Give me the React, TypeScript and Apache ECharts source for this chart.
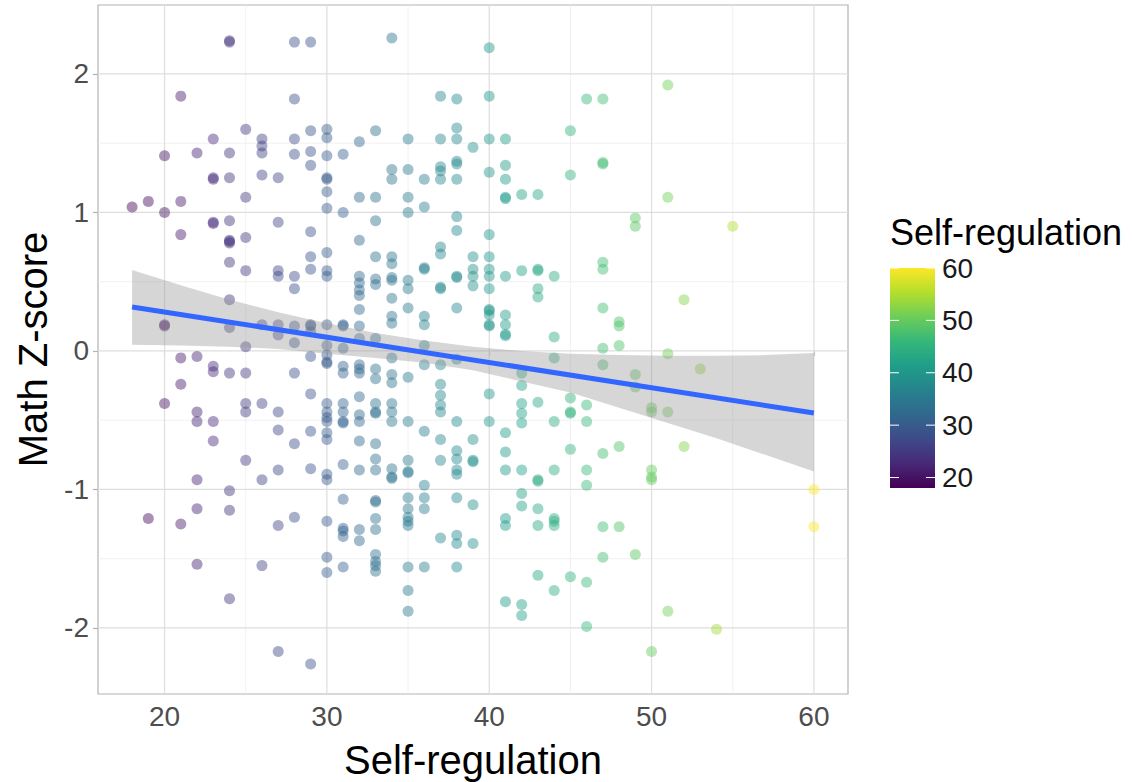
import React, { useEffect, useRef } from 'react';
import * as echarts from 'echarts';

// ---------- data ----------
const srLevels = [18, 19, 20, 21, 22, 23, 24, 25, 26, 27, 28, 29, 30, 31, 32, 33, 34, 35, 36, 37, 38, 39, 40, 41, 42, 43, 44, 45, 46, 47, 48, 49, 50, 51, 52, 53, 54, 55, 60];

const zScoresAtLevel: number[][] = [
  [1.04],
  [1.08, -1.21],
  [1.41, 1.0, 0.19, 0.18, -0.38],
  [1.84, 1.08, 0.84, -0.05, -0.24, -1.25],
  [1.43, -0.04, -0.44, -0.51, -0.93, -1.14, -1.54],
  [1.53, 1.25, 1.24, 0.93, 0.92, -0.11, -0.15, -0.51, -0.65],
  [2.23, 2.24, 1.43, 1.25, 0.94, 0.8, 0.79, 0.78, 0.64, 0.37, 0.17, -0.16, -1.01, -1.15, -1.79],
  [1.6, 1.11, 0.82, 0.58, 0.03, -0.16, -0.38, -0.44, -0.79],
  [1.53, 1.48, 1.43, 1.27, 0.19, -0.38, -0.93, -1.55],
  [1.25, 0.93, 0.58, 0.54, 0.19, 0.115, -0.44, -0.57, -0.86, -1.26, -2.17],
  [2.23, 1.82, 1.53, 1.42, 0.54, 0.45, 0.18, 0.06, -0.16, -0.67, -1.2],
  [2.23, 1.59, 1.44, 1.34, 0.86, 0.68, 0.59, 0.19, 0.18, 0.14, -0.04, -0.31, -0.58, -0.85, -2.26],
  [1.6, 1.54, 1.41, 1.25, 1.24, 1.15, 1.03, 0.71, 0.58, 0.54, 0.19, 0.04, -0.03, -0.08, -0.09, -0.38, -0.44, -0.48, -0.51, -0.59, -0.64, -0.89, -0.93, -1.23, -1.49, -1.6],
  [1.42, 1.0, 0.19, 0.18, 0.02, -0.11, -0.16, -0.38, -0.44, -0.51, -0.52, -0.82, -1.07, -1.28, -1.3, -1.34, -1.56],
  [1.51, 1.11, 0.8, 0.54, 0.49, 0.44, 0.4, 0.3, 0.18, 0.09, -0.1, -0.13, -0.16, -0.33, -0.46, -0.51, -0.65, -0.86, -1.29, -1.37],
  [1.59, 1.11, 0.94, 0.68, 0.52, 0.48, 0.09, -0.13, -0.2, -0.38, -0.44, -0.45, -0.67, -0.78, -0.86, -1.08, -1.09, -1.21, -1.29, -1.47, -1.52, -1.55, -1.59],
  [2.26, 1.31, 1.24, 0.68, 0.63, 0.53, 0.51, 0.38, 0.25, 0.2, -0.05, -0.17, -0.23, -0.38, -0.44, -0.51, -0.85, -0.91, -0.92],
  [1.53, 1.31, 1.11, 1.0, 0.51, 0.45, 0.31, -0.19, -0.51, -0.79, -0.87, -0.88, -1.06, -1.14, -1.2, -1.23, -1.26, -1.56, -1.73, -1.88],
  [1.24, 1.04, 0.59, 0.6, 0.25, 0.19, 0.04, -0.1, -0.58, -0.97, -1.06, -1.14, -1.56],
  [1.84, 1.53, 1.33, 1.3, 1.24, 0.75, 0.7, 0.46, 0.45, -0.1, -0.24, -0.32, -0.39, -0.44, -0.64, -0.79, -1.35],
  [1.82, 1.61, 1.53, 1.37, 1.35, 1.24, 0.97, 0.87, 0.54, 0.53, 0.31, -0.06, -0.51, -0.72, -0.78, -0.86, -0.89, -1.06, -1.33, -1.39, -1.56],
  [1.47, 0.68, 0.59, 0.54, 0.47, -0.64, -0.79, -0.8, -1.11, -1.39],
  [2.19, 1.84, 1.53, 1.29, 0.84, 0.68, 0.59, 0.54, 0.45, 0.3, 0.29, 0.26, 0.19, 0.18, -0.31, -0.51],
  [1.53, 1.34, 1.24, 1.11, 1.1, 0.54, 0.26, 0.19, 0.12, 0.11, -0.59, -0.73, -0.86, -1.21, -1.26, -1.81],
  [1.13, 0.58, -0.16, -0.25, -0.38, -0.45, -0.52, -0.86, -1.03, -1.12, -1.83, -1.91],
  [1.13, 0.59, 0.58, 0.45, 0.39, -0.37, -0.93, -0.94, -1.14, -1.26, -1.62],
  [0.54, 0.1, -0.05, -0.51, -0.86, -1.21, -1.23, -1.26, -1.73],
  [1.59, 1.27, -0.34, -0.44, -0.45, -0.71, -1.63],
  [1.82, -0.39, -0.51, -0.86, -0.97, -1.67, -1.99],
  [1.82, 1.36, 1.35, 0.64, 0.59, 0.31, 0.02, -0.1, -0.74, -1.27, -1.49],
  [0.21, 0.18, 0.04, -0.69, -1.27],
  [0.96, 0.9, -0.17, -0.26, -1.47],
  [-0.41, -0.44, -0.86, -0.91, -0.93, -2.17],
  [1.92, 1.11, -0.02, -0.44, -1.88],
  [0.37, -0.69],
  [-0.13],
  [-2.01],
  [0.9],
  [-1.0, -1.27],
];

// linear fit
const fitX = [18, 60];
const fitY = [0.318, -0.448];

// confidence band
const bandX = [18, 21, 24, 27, 30, 33, 36, 39, 42, 45, 48, 51, 54, 57, 60];
const bandUpper = [0.585, 0.475, 0.37, 0.28, 0.2, 0.13, 0.075, 0.03, 0.0, -0.02, -0.03, -0.035, -0.035, -0.03, -0.015];
const bandLower = [0.045, 0.04, 0.03, 0.015, -0.02, -0.05, -0.085, -0.14, -0.22, -0.3, -0.41, -0.52, -0.63, -0.75, -0.87];

// axes / ticks
const xTicks = [20, 30, 40, 50, 60];
const xMinorTicks = [25, 35, 45, 55];
const yTicks = [-2, -1, 0, 1, 2];
const yMinorTicks = [-1.5, -0.5, 0.5, 1.5];
const legendTicks = [20, 30, 40, 50, 60];

const X_MIN = 15.9;
const X_MAX = 62.1;
const Y_MIN = -2.477;
const Y_MAX = 2.498;
const COLOR_MIN = 18;
const COLOR_MAX = 60;

const VIRIDIS = ['#440154', '#482878', '#3E4A89', '#31688E', '#26828E', '#1F9E89', '#35B779', '#6DCD59', '#B4DE2C', '#FDE725'];

const FONT = '"Liberation Sans", Arial, Helvetica, sans-serif';

function gridLineSeries(vals: number[], vertical: boolean, major: boolean) {
  return {
    type: 'custom',
    silent: true,
    z: 1,
    data: vals.map((v) => (vertical ? [v, 0] : [20, v])),
    renderItem: (_params: any, api: any) => {
      const a = api.value(0);
      const b = api.value(1);
      const p1 = vertical ? api.coord([a, Y_MIN]) : api.coord([X_MIN, b]);
      const p2 = vertical ? api.coord([a, Y_MAX]) : api.coord([X_MAX, b]);
      return {
        type: 'line',
        shape: { x1: p1[0], y1: p1[1], x2: p2[0], y2: p2[1] },
        style: { stroke: major ? '#dedede' : '#ebebeb', lineWidth: major ? 1.2 : 0.7 },
      };
    },
  };
}

export default function App() {
  const ref = useRef<HTMLDivElement>(null);

  useEffect(() => {
    if (!ref.current) return;
    const chart = echarts.init(ref.current, undefined, { renderer: 'svg' });

    const points: number[][] = [];
    srLevels.forEach((x, i) => zScoresAtLevel[i].forEach((y) => points.push([x, y])));

    // legend geometry
    const lgX = 890;
    const lgTop = 268;
    const lgH = 220;
    const lgW = 45;
    const legendY = (v: number) => lgTop + lgH - ((v - COLOR_MIN) / (COLOR_MAX - COLOR_MIN)) * lgH;

    const legendGraphics: any[] = [
      {
        type: 'text',
        left: lgX,
        top: 214,
        style: { text: 'Self-regulation', fontSize: 36, fill: '#000', fontFamily: FONT },
      },
      {
        type: 'rect',
        shape: { x: lgX, y: lgTop, width: lgW, height: lgH },
        style: {
          fill: new echarts.graphic.LinearGradient(
            0, 1, 0, 0,
            VIRIDIS.map((c, i) => ({ offset: i / (VIRIDIS.length - 1), color: c }))
          ),
        },
      },
    ];
    legendTicks.forEach((v) => {
      const y = legendY(v);
      legendGraphics.push(
        { type: 'line', shape: { x1: lgX, y1: y, x2: lgX + 9, y2: y }, style: { stroke: '#fff', lineWidth: 1 } },
        { type: 'line', shape: { x1: lgX + lgW - 9, y1: y, x2: lgX + lgW, y2: y }, style: { stroke: '#fff', lineWidth: 1 } },
        {
          type: 'text',
          x: lgX + lgW + 7,
          y,
          style: { text: String(v), fontSize: 28, fill: '#1a1a1a', fontFamily: FONT, verticalAlign: 'middle', align: 'left' },
        }
      );
    });

    const option: any = {
      animation: false,
      backgroundColor: '#fff',
      textStyle: { fontFamily: FONT },
      grid: {
        left: 98,
        top: 5,
        width: 750,
        height: 689,
        show: true,
        borderColor: '#b3b3b3',
        borderWidth: 1.2,
        backgroundColor: 'transparent',
        containLabel: false,
        outerBoundsMode: 'none',
      },
      xAxis: {
        type: 'value',
        min: X_MIN,
        max: X_MAX,
        splitLine: { show: false },
        axisLine: { show: false },
        axisTick: { show: true, customValues: xTicks, length: 5, lineStyle: { color: '#b3b3b3', width: 1.2 } },
        axisLabel: { customValues: xTicks, color: '#4d4d4d', fontSize: 28, margin: 8, fontFamily: FONT },
        name: 'Self-regulation',
        nameLocation: 'middle',
        nameGap: 46,
        nameTextStyle: { fontSize: 40, color: '#000', fontFamily: FONT },
      },
      yAxis: {
        type: 'value',
        min: Y_MIN,
        max: Y_MAX,
        splitLine: { show: false },
        axisLine: { show: false },
        axisTick: { show: true, customValues: yTicks, length: 5, lineStyle: { color: '#b3b3b3', width: 1.2 } },
        axisLabel: { customValues: yTicks, color: '#4d4d4d', fontSize: 28, margin: 9, fontFamily: FONT },
        name: 'Math Z-score',
        nameLocation: 'middle',
        nameGap: 42,
        nameTextStyle: { fontSize: 40, color: '#000', fontFamily: FONT },
      },
      visualMap: {
        type: 'continuous',
        show: false,
        dimension: 0,
        min: COLOR_MIN,
        max: COLOR_MAX,
        seriesIndex: 4,
        inRange: { color: VIRIDIS },
      },
      graphic: legendGraphics,
      series: [
        gridLineSeries(xMinorTicks, true, false),
        gridLineSeries(yMinorTicks, false, false),
        gridLineSeries(xTicks, true, true),
        gridLineSeries(yTicks, false, true),
        {
          type: 'scatter',
          z: 2,
          data: points,
          symbolSize: 11,
          itemStyle: { opacity: 0.45 },
          silent: true,
        },
        {
          type: 'custom',
          z: 3,
          silent: true,
          data: [[bandX[0], bandUpper[0]]],
          renderItem: (_params: any, api: any) => {
            const pts: number[][] = [];
            bandX.forEach((x, i) => pts.push(api.coord([x, bandUpper[i]])));
            for (let i = bandX.length - 1; i >= 0; i--) pts.push(api.coord([bandX[i], bandLower[i]]));
            return { type: 'polygon', shape: { points: pts, smooth: 0 }, style: { fill: 'rgba(153,153,153,0.4)' } };
          },
        },
        {
          type: 'line',
          z: 4,
          silent: true,
          symbol: 'none',
          data: fitX.map((x, i) => [x, fitY[i]]),
          lineStyle: { color: '#3366ff', width: 5 },
        },
      ],
    };

    chart.setOption(option);
    return () => chart.dispose();
  }, []);

  return <div ref={ref} style={{ position: 'absolute', left: 0, top: 0, width: 1132, height: 782 }} />;
}
